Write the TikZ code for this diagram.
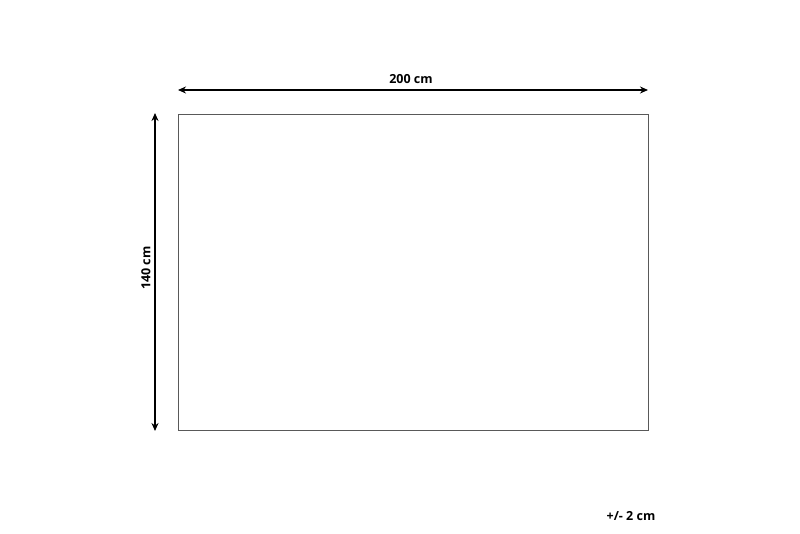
\documentclass[tikz,border=0pt]{standalone}
\usepackage{fontspec}
\setmainfont{Open Sans}
\usetikzlibrary{arrows.meta}

\begin{document}
\begin{tikzpicture}[x=1pt,y=-1pt,
	dim/.style={line width=1.6pt, {Stealth[length=8pt,width=7pt]}-{Stealth[length=8pt,width=7pt]}},
	lbl/.style={font=\fontsize{12.5}{14}\selectfont\bfseries, inner sep=0pt}]
				\useasboundingbox (0,0) rectangle (800,533);
				\coordinate (A) at (178,114);
				\coordinate (B) at (648,430);
				\coordinate (H1) at (178,90);
				\coordinate (H2) at (648,90);
				\coordinate (V1) at (155,113);
				\coordinate (V2) at (155,431);
				
				\draw[gray!70!black, line width=1pt] (A) rectangle (B);
				\draw[dim] (H1) -- (H2);
				\draw[dim] (V1) -- (V2);
				
				\node[lbl] (w) at (411,79) {200 cm};
				\node[lbl, rotate=90] (h) at (146,268) {140 cm};
				\node[lbl] (tol) at (631,516) {+/- 2 cm};
			\end{tikzpicture}
\end{document}
